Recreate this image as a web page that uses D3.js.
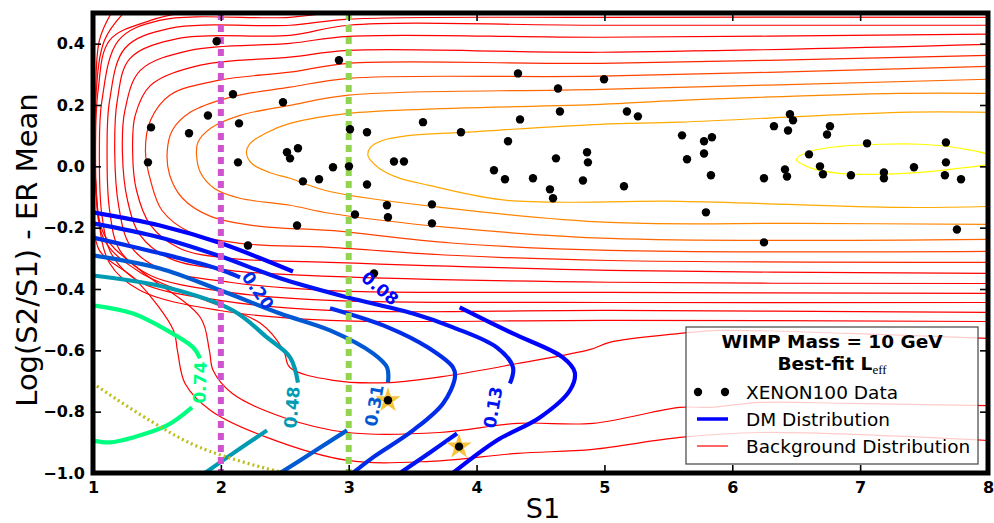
<!DOCTYPE html>
<html>
<head>
<meta charset="utf-8">
<script src="https://cdn.jsdelivr.net/npm/d3@7"></script>
<style>
  body { margin: 0; background: #fff; }
  svg { display: block; font-family: "DejaVu Sans", sans-serif; }
</style>
</head>
<body>
<svg id="chart" width="994" height="523"></svg>
<script>
// ---- axis ticks ----
const xTicks = [1, 2, 3, 4, 5, 6, 7, 8];
const yTicks = [0.4, 0.2, 0.0, -0.2, -0.4, -0.6, -0.8, -1.0];

// ---- XENON100 events (S1, log(S2/S1) - ER mean) ----
const xenonS1 = [1.967,2.924,2.095,2.486,1.899,2.142,1.454,1.751,2.517,2.541,2.603,1.430,2.134,2.642,2.768,2.877,3.002,3.010,2.596,2.212,
  4.324,4.997,4.637,4.652,5.176,5.262,4.340,3.581,3.143,3.878,4.246,4.864,4.871,4.621,3.354,3.432,4.136,4.222,4.441,4.832,
  5.153,4.574,4.598,3.143,3.299,3.651,3.049,3.307,3.651,5.607,5.779,5.841,5.779,5.646,5.833,6.248,6.326,6.451,6.475,6.436,
  6.412,6.428,6.764,6.741,6.600,6.686,6.709,6.928,7.054,7.186,7.186,7.421,7.671,7.671,7.663,7.789,5.794,6.248,7.757,3.198,
  3.307,3.863];
const xenonLog = [0.408,0.346,0.235,0.209,0.166,0.140,0.127,0.108,0.046,0.026,0.059,0.013,0.013,-0.049,-0.042,-0.003,0.000,0.121,-0.193,-0.258,
  0.303,0.284,0.254,0.179,0.179,0.163,0.153,0.144,0.111,0.111,0.082,0.046,0.013,0.026,0.016,0.016,-0.013,-0.042,-0.039,-0.046,
  -0.065,-0.075,-0.104,-0.059,-0.127,-0.124,-0.157,-0.166,-0.186,0.101,0.082,0.095,0.042,0.023,-0.029,-0.039,0.131,0.170,0.150,0.117,
  -0.010,-0.033,0.131,0.104,0.039,0.000,-0.026,-0.029,0.075,-0.020,-0.039,-0.003,0.078,0.013,-0.029,-0.042,-0.150,-0.248,-0.206,-0.349,
  -0.763,-0.914];

// ---- highlighted events ----
const starS1 = [3.307, 3.863];
const starLog = [-0.763, -0.914];

// ---- background (ER) likelihood contours, innermost first ----
const bgCore = [[6.50,0.023],[6.61,0.049],[6.84,0.065],[7.16,0.072],[7.47,0.072],[7.78,0.059],[8.02,0.033],
  [8.02,0.012],[7.78,-0.006],[7.47,-0.020],[7.16,-0.026],[6.84,-0.023],[6.61,-0.005]];
const bgContours = [
  [[8,.176],[7.31,.176],[5.59,.144],[4.97,.137],[3.89,.111],[3.48,.101],[3.27,.085],[3.17,.062],[3.15,.036],[3.17,.02],[3.24,-.007],[3.38,-.036],[3.63,-.062],[4.24,-.111],[5.59,-.114],[7.31,-.134],[8,-.131]],
  [[8,.238],[7.31,.238],[5.59,.215],[4.97,.202],[3.0,.173],[2.54,.14],[2.35,.108],[2.23,.075],[2.2,.046],[2.24,.01],[2.38,-.02],[2.54,-.039],[2.85,-.082],[3.79,-.137],[5.04,-.183],[6.53,-.186],[8,-.189]],
  [[8,.284],[4.97,.251],[3.0,.232],[2.54,.199],[2.15,.166],[1.92,.124],[1.82,.078],[1.81,.036],[1.84,-.02],[1.95,-.072],[2.15,-.104],[2.54,-.127],[2.85,-.153],[3.8,-.2],[5.04,-.235],[8,-.238]],
  [[8,.326],[4.97,.294],[3.0,.287],[2.54,.258],[2.07,.225],[1.76,.176],[1.62,.117],[1.58,.046],[1.6,-.029],[1.7,-.104],[1.92,-.163],[2.31,-.196],[2.85,-.209],[3.8,-.25],[5.04,-.274],[8,-.277]],
  [[8,.362],[4.97,.336],[3.0,.336],[2.54,.307],[1.99,.281],[1.6,.232],[1.45,.15],[1.41,.052],[1.45,-.046],[1.54,-.144],[1.76,-.215],[2.15,-.251],[2.85,-.264],[3.8,-.29],[5.04,-.307],[8,-.313]],
  [[8,.398],[4.97,.372],[3.0,.378],[2.54,.356],[1.84,.33],[1.45,.264],[1.33,.166],[1.31,.046],[1.34,-.078],[1.45,-.192],[1.68,-.268],[2.07,-.3],[2.85,-.313],[5.04,-.339],[8,-.349]],
  [[8,.431],[4.97,.421],[3.0,.424],[2.54,.401],[1.76,.378],[1.37,.313],[1.25,.183],[1.23,.046],[1.27,-.111],[1.37,-.225],[1.6,-.3],[2.07,-.339],[2.85,-.359],[5.04,-.378],[8,-.382]],
  [[8,.46],[4.97,.46],[3.0,.46],[2.54,.427],[1.68,.418],[1.29,.352],[1.19,.215],[1.17,.046],[1.2,-.127],[1.29,-.258],[1.52,-.333],[2.07,-.378],[2.85,-.405],[5.04,-.411],[8,-.414]],
  [[8,.486],[4.97,.486],[3.0,.48],[2.54,.46],[1.6,.45],[1.25,.385],[1.13,.215],[1.11,.046],[1.13,-.144],[1.21,-.274],[1.45,-.356],[2.07,-.411],[2.85,-.437],[5.04,-.444],[8,-.444]],
  [[2.9,.505],[2.54,.486],[1.52,.476],[1.2,.411],[1.07,.215],[1.05,.046],[1.07,-.16],[1.15,-.29],[1.37,-.378],[1.99,-.437],[2.85,-.47],[5.04,-.47],[8,-.476]],
  [[8,-.506],[5.04,-.502],[2.85,-.502],[1.99,-.47],[1.37,-.405],[1.13,-.316],[1.04,-.16],[1.02,.046],[1.04,.248],[1.13,.411],[1.45,.476],[1.75,.505]],
  [[8,-.561],[6.91,-.545],[5.9,-.535],[5.59,-.545],[5.04,-.574],[4.89,-.597],[4.32,-.643],[3.79,-.682],[3.32,-.705],[2.88,-.698],[2.54,-.656],[2.49,-.6],[2.31,-.512],[1.84,-.431],[1.37,-.346],[1.09,-.241],[1.02,-.046],[1.02,.215],[1.09,.411],[1.25,.505]],
  [[8,-.78],[6.91,-.773],[6.22,-.77],[5.83,-.786],[5.59,-.786],[4.91,-.838],[4.32,-.838],[3.71,-.868],[2.99,-.868],[2.49,-.819],[2.09,-.741],[1.94,-.666],[1.91,-.6],[1.84,-.493],[1.37,-.339],[1.09,-.225],[1.02,-.046],[1.02,.215],[1.05,.411],[1.15,.505]],
  [[8,-.894],[6.22,-.868],[5.59,-.884],[4.91,-.923],[4.32,-.936],[3.64,-.962],[2.99,-.959],[2.36,-.884],[1.92,-.796],[1.72,-.708],[1.66,-.6],[1.63,-.535],[1.34,-.372],[1.05,-.274],[1.0,-.15]]
];

// ---- dark-matter signal contours: levels, line pieces, and label spots [S1, y, angle] ----
const dmLevels = [0.08, 0.13, 0.20, 0.31, 0.48, 0.74];
const dmSegments = [
  [ [[1,-.15],[1.524,-.193],[2.001,-.251],[2.564,-.343]],
    [[3.868,-.46],[4.283,-.545],[4.674,-.623],[4.768,-.672],[4.729,-.731],[4.495,-.819],[4.158,-.894],[3.815,-1.0]] ],
  [ [[1,-.186],[1.524,-.232],[2.001,-.294],[2.463,-.365],[2.987,-.427],[3.503,-.48],[3.816,-.525],[4.16,-.591],[4.285,-.656],[4.261,-.708]],
    [[3.847,-.871],[3.636,-.933],[3.401,-1.0]] ],
  [ [[1,-.232],[1.5,-.281],[1.97,-.333],[2.15,-.362]],
    [[2.854,-.463],[3.307,-.525],[3.62,-.591],[3.816,-.656],[3.831,-.688],[3.738,-.773],[3.503,-.861],[3.19,-.949],[3.033,-1.0]] ],
  [ [[1,-.29],[1.524,-.333],[2.001,-.405],[2.463,-.48],[2.854,-.535],[3.19,-.61],[3.3,-.656],[3.307,-.705]],
    [[2.987,-.861],[2.619,-.959],[2.463,-1.0]] ],
  [ [[1,-.356],[1.579,-.395],[2.095,-.47],[2.361,-.558],[2.541,-.623],[2.603,-.705]],
    [[2.361,-.861],[2.095,-.936],[1.876,-1.0]] ],
  [ [[1.0,-.4535],[1.313,-.48],[1.579,-.535],[1.782,-.59],[1.837,-.626]],
    [[1.774,-.786],[1.579,-.845],[1.313,-.884],[1.133,-.90],[1.0,-.894]] ]
];
const dmLabels = [[3.245,-.398,40],[4.128,-.786,-80],[2.29,-.405,55],[3.2,-.78,-80],[2.556,-.786,-85],[1.837,-.705,-88]];

// ---- threshold guide lines ----
const guideS1 = [2, 3];
const floorS1 = [1.0, 1.446, 1.837, 2.486, 2.54];
const floorLog = [-0.708, -0.829, -0.917, -0.998, -1.0];

// ---- legend ----
const legendTitle = "WIMP Mass = 10 GeV";
const legendItems = ["XENON100 Data", "DM Distribution", "Background Distribution"];

const svg = d3.select("#chart");
const x = d3.scaleLinear().domain([1, 8]).range([93, 988]);
const y = d3.scaleLinear().domain([-1, 0.5]).range([473, 13]);

svg.append("defs").append("clipPath").attr("id", "plot")
  .append("rect").attr("x", 93).attr("y", 13).attr("width", 895).attr("height", 460);

const plot = svg.append("g").attr("clip-path", "url(#plot)");

const line = d3.line().x(d => x(d[0])).y(d => y(d[1])).curve(d3.curveCatmullRom.alpha(0.5));
const closedLine = d3.line().x(d => x(d[0])).y(d => y(d[1])).curve(d3.curveCatmullRomClosed.alpha(0.5));

// background contours: autumn palette, yellow at the core fading to red outside
const bgColor = i => d3.rgb(255, Math.round(255 * Math.max(0, 0.66 - 0.13 * i)), 0).toString();
plot.append("path").attr("d", closedLine(bgCore))
  .attr("fill", "none").attr("stroke", "#ffff00").attr("stroke-width", 1.2);
plot.selectAll("path.bg").data(bgContours).join("path").attr("class", "bg")
  .attr("d", line).attr("fill", "none")
  .attr("stroke", (d, i) => bgColor(i)).attr("stroke-width", 1.2);

// dark-matter contours: winter palette over the level range
const dmColor = d3.scaleLinear().domain([0.08, 0.74]).range([0, 1]);
const winter = v => { const t = dmColor(v); return d3.rgb(0, Math.round(255 * t), Math.round(255 * (1 - 0.5 * t))).toString(); };
dmLevels.forEach((lv, i) => {
  plot.selectAll(null).data(dmSegments[i]).join("path")
    .attr("d", line).attr("fill", "none")
    .attr("stroke", winter(lv)).attr("stroke-width", 4.2);
});

// detector floor (dotted)
plot.append("path").attr("d", line(floorS1.map((s, i) => [s, floorLog[i]])))
  .attr("fill", "none").attr("stroke", "#bdbd1a").attr("stroke-width", 3.2)
  .attr("stroke-dasharray", "2,3");

// S1 threshold guides
plot.selectAll("line.guide").data(guideS1).join("line").attr("class", "guide")
  .attr("x1", d => x(d)).attr("x2", d => x(d))
  .attr("y1", y(0.5)).attr("y2", y(-1))
  .attr("stroke", (d, i) => i === 0 ? "#cf52cf" : "#92d34f")
  .attr("stroke-width", 6).attr("stroke-dasharray", "7,5");

// contour labels
svg.selectAll("text.dmlab").data(dmLabels).join("text").attr("class", "dmlab")
  .attr("transform", d => `translate(${x(d[0])},${y(d[1])}) rotate(${d[2]})`)
  .attr("text-anchor", "middle").attr("dominant-baseline", "central")
  .attr("font-size", 17).attr("font-weight", "bold")
  .attr("fill", (d, i) => winter(dmLevels[i]))
  .text((d, i) => dmLevels[i].toFixed(2));

// highlighted events
plot.selectAll("path.star").data(starS1).join("path").attr("class", "star")
  .attr("transform", (d, i) => `translate(${x(d)},${y(starLog[i])})`)
  .attr("d", d3.symbol(d3.symbolStar, 200)).attr("fill", "#f8c23a");

// events
plot.selectAll("circle.ev").data(xenonS1).join("circle").attr("class", "ev")
  .attr("cx", d => x(d)).attr("cy", (d, i) => y(xenonLog[i])).attr("r", 4.2).attr("fill", "#000");

// axes with inward ticks
const fmtY = d3.format(".1f");
const axisStyle = g => {
  g.select(".domain").remove();
  g.selectAll(".tick line").attr("stroke", "#000").attr("stroke-width", 1.6);
  g.selectAll(".tick text").attr("font-size", 16).attr("font-weight", "bold")
    .attr("font-family", "DejaVu Sans, sans-serif").attr("fill", "#000");
};
svg.append("g").attr("transform", "translate(0,473)")
  .call(d3.axisBottom(x).tickValues(xTicks).tickFormat(d3.format("d")).tickSize(-8).tickPadding(9)).call(axisStyle);
svg.append("g").attr("transform", "translate(0,13)")
  .call(d3.axisTop(x).tickValues(xTicks).tickFormat("").tickSize(-8)).call(axisStyle);
svg.append("g").attr("transform", "translate(93,0)")
  .call(d3.axisLeft(y).tickValues(yTicks).tickFormat(fmtY).tickSize(-8).tickPadding(8)).call(axisStyle);
svg.append("g").attr("transform", "translate(988,0)")
  .call(d3.axisRight(y).tickValues(yTicks).tickFormat("").tickSize(-8)).call(axisStyle);

// frame
svg.append("rect").attr("x", 93).attr("y", 13).attr("width", 895).attr("height", 460)
  .attr("fill", "none").attr("stroke", "#000").attr("stroke-width", 5);

// axis titles
svg.append("text").attr("x", 543).attr("y", 518).attr("text-anchor", "middle")
  .attr("font-size", 27).text("S1");
svg.append("text").attr("transform", "translate(37,250) rotate(-90)").attr("text-anchor", "middle")
  .attr("font-size", 29).text("Log(S2/S1) - ER Mean");

// legend
const lg = svg.append("g");
lg.append("rect").attr("x", 686).attr("y", 327).attr("width", 292).attr("height", 137)
  .attr("fill", "#fff").attr("fill-opacity", 0.8).attr("stroke", "#444").attr("stroke-width", 1.2);
lg.append("text").attr("x", 832).attr("y", 348).attr("text-anchor", "middle")
  .attr("font-size", 18.5).attr("font-weight", "bold").text(legendTitle);
const t2 = lg.append("text").attr("x", 832).attr("y", 370).attr("text-anchor", "middle")
  .attr("font-size", 18.5).attr("font-weight", "bold");
t2.append("tspan").text("Best-fit L");
t2.append("tspan").attr("font-family", "Liberation Serif, serif").attr("font-weight", "normal")
  .attr("font-size", 13).attr("dy", 4).text("eff");
lg.selectAll("circle").data([698, 725]).join("circle")
  .attr("cx", d => d).attr("cy", 392).attr("r", 4.2).attr("fill", "#000");
lg.append("line").attr("x1", 697).attr("x2", 728).attr("y1", 419).attr("y2", 419)
  .attr("stroke", "#0000ff").attr("stroke-width", 3.5);
lg.append("line").attr("x1", 697).attr("x2", 728).attr("y1", 446).attr("y2", 446)
  .attr("stroke", "#ff0000").attr("stroke-width", 1.2);
lg.selectAll("text.item").data(legendItems).join("text").attr("class", "item")
  .attr("x", 746).attr("y", (d, i) => 399 + i * 27).attr("font-size", 18.5).text(d => d);
</script>
</body>
</html>
